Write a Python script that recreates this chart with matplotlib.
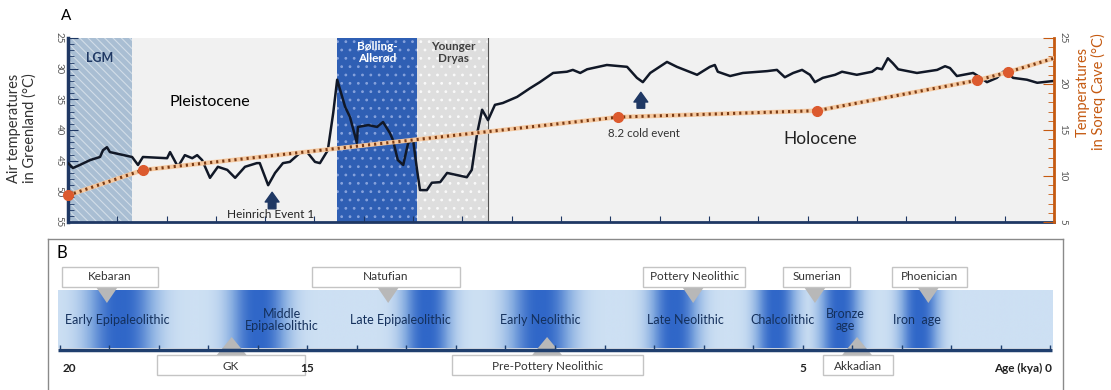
import matplotlib
matplotlib.use("Agg")
import matplotlib.pyplot as plt
import numpy as np
from matplotlib.colors import LinearSegmentedColormap
from matplotlib.patches import Polygon, Rectangle
from matplotlib.ticker import MultipleLocator

plt.rcParams["font.family"] = ["Lato", "DejaVu Sans"]
plt.rcParams["hatch.linewidth"] = 0.8

NAVY = "#1f3864"
ORANGE = "#c55a11"

# Greenland air temperature (shown as magnitude, axis inverted), age in kya
green_age = [20.00, 19.90, 19.76, 19.55, 19.35, 19.29, 19.21, 19.15, 18.70, 18.58,
             18.48, 17.99, 17.93, 17.77, 17.63, 17.48, 17.38, 17.28, 17.12, 16.96,
             16.77, 16.61, 16.41, 16.17, 16.11, 15.94, 15.80, 15.64, 15.50, 15.29,
             15.15, 14.99, 14.89, 14.73, 14.62, 14.54, 14.38, 14.28, 14.14, 14.12,
             13.91, 13.73, 13.61, 13.47, 13.41, 13.31, 13.20, 13.10, 13.00, 12.92,
             12.86, 12.72, 12.62, 12.45, 12.31, 11.91, 11.81, 11.70, 11.60, 11.48,
             11.34, 11.18, 10.89, 10.63, 10.43, 10.16, 9.88, 9.76, 9.61, 9.47,
             9.07, 8.66, 8.46, 8.34, 8.19, 7.85, 7.65, 7.24, 6.98, 6.88,
             6.82, 6.57, 6.31, 5.82, 5.62, 5.46, 5.29, 5.11, 4.95, 4.85,
             4.69, 4.44, 4.30, 4.00, 3.69, 3.59, 3.49, 3.37, 3.27, 3.16,
             2.78, 2.37, 2.21, 2.11, 1.97, 1.64, 1.50, 1.36, 1.16, 1.03,
             0.93, 0.83, 0.55, 0.34, 0.00]
green_temp = [45.4, 46.2, 45.7, 44.9, 44.4, 43.3, 42.8, 43.6, 44.4, 45.7,
              44.4, 44.6, 43.6, 46.0, 44.1, 44.6, 44.1, 44.9, 47.8, 46.0,
              46.5, 47.8, 46.0, 45.4, 45.4, 49.0, 47.0, 45.4, 45.2, 43.7,
              43.6, 45.2, 45.4, 43.3, 37.2, 31.8, 36.2, 37.9, 42.1, 39.5,
              39.2, 39.5, 38.7, 40.5, 41.6, 44.9, 45.7, 42.1, 41.6, 46.5,
              49.8, 49.8, 48.6, 48.5, 47.0, 47.7, 46.5, 40.5, 36.7, 38.4,
              35.9, 35.6, 34.6, 33.2, 32.2, 30.7, 30.5, 30.2, 30.7, 30.1,
              29.4, 29.7, 31.5, 32.2, 30.7, 28.9, 29.7, 31.0, 29.7, 29.4,
              30.5, 31.2, 30.7, 30.4, 30.2, 31.4, 30.7, 30.2, 31.0, 32.2,
              31.5, 31.0, 30.5, 31.0, 30.5, 29.9, 30.1, 28.3, 29.1, 30.1,
              30.7, 30.2, 29.6, 29.9, 31.2, 30.7, 31.4, 32.2, 31.5, 30.5,
              30.7, 31.5, 31.8, 32.3, 32.0]

# Soreq Cave temperatures
soreq_age = [20.0, 18.48, 8.84, 4.81, 1.56, 0.93, 0.0]
soreq_temp = [7.9, 10.65, 16.4, 17.1, 20.4, 21.3, 22.8]
soreq_measured = [0, 1, 2, 3, 4, 5]

# climate intervals (start, end age)
lgm = (20.0, 18.7)
bolling = (14.55, 12.92)
dryas = (12.92, 11.48)

# events with arrows: (age, tip, base)
events = [(15.86, 49.7, 53.3), (8.38, 33.4, 36.9)]

# panel B
band_blobs = [18.78, 16.0, 12.6, 10.3, 7.6, 5.55, 4.25, 2.65]
blob_width = [0.7, 0.6, 0.5, 0.65, 0.5, 0.42, 0.42, 0.4]
periods = ["Early Epipaleolithic", "Middle\nEpipaleolithic", "Late Epipaleolithic",
           "Early Neolithic", "Late Neolithic", "Chalcolithic", "Bronze\nage", "Iron  age"]
period_age = [18.83, 15.52, 13.13, 10.30, 7.37, 5.41, 4.14, 2.69]

upper_names = ["Kebaran", "Natufian", "Pottery Neolithic", "Sumerian", "Phoenician"]
upper_ptr = [19.05, 13.37, 7.21, 4.75, 2.46]
upper_left = [19.96, 14.91, 8.22, 5.39, 3.19]
upper_right = [18.02, 11.92, 6.16, 4.04, 1.68]

lower_names = ["GK", "Pre-Pottery Neolithic", "Akkadian"]
lower_ptr = [16.53, 10.16, 3.90]
lower_left = [18.04, 12.08, 4.59]
lower_right = [15.05, 8.22, 3.17]

age_labels = {20: "20", 15: "15", 5: "5", 0: "Age (kya) 0"}

fig = plt.figure(figsize=(11.11, 3.9), dpi=100)

# ---------------- panel A ----------------
ax = fig.add_axes([68 / 1111, 1 - 222 / 390, 986 / 1111, 184 / 390])
ax.set_facecolor("#f1f1f1")
ax.set_xlim(20, 0)
ax.set_ylim(55, 25)

ax.axvspan(*lgm, facecolor="#a9bed3", edgecolor="#d2dde8", hatch="\\\\\\\\", lw=0, zorder=1)
ax.axvspan(*bolling, facecolor="#2f5fb4", edgecolor="#86a2dc", hatch="..", lw=0, zorder=1)
ax.axvspan(*dryas, facecolor="#dedede", edgecolor="#fafafa", hatch="..", lw=0, zorder=1)
ax.axvline(dryas[1], color="#555555", lw=0.8, zorder=1)

ax.plot(green_age, green_temp, color="#111827", lw=1.8, zorder=4)

for age, tip, base in events:
    ax.annotate("", xy=(age, tip), xytext=(age, base),
                arrowprops=dict(arrowstyle="simple,head_width=1.0,head_length=0.7,tail_width=0.55",
                                color=NAVY), zorder=5)

ax.spines["top"].set_visible(False)
ax.spines["right"].set_visible(False)
ax.spines["left"].set_color(NAVY)
ax.spines["left"].set_linewidth(2.5)
ax.spines["bottom"].set_color(NAVY)
ax.spines["bottom"].set_linewidth(2)
ax.xaxis.set_major_locator(MultipleLocator(1))
ax.tick_params(axis="x", direction="in", length=4, color=NAVY, labelbottom=False)
ax.yaxis.set_major_locator(MultipleLocator(5))
ax.yaxis.set_minor_locator(MultipleLocator(1))
ax.tick_params(axis="y", which="major", direction="in", length=7, color=NAVY,
               labelsize=7, labelcolor="#555555", labelrotation=-90, pad=3)
ax.tick_params(axis="y", which="minor", direction="in", length=4, color=NAVY)
for lab in ax.get_yticklabels():
    lab.set_verticalalignment("center")

ax2 = ax.twinx()
ax2.set_ylim(5, 25)
ax2.plot(soreq_age, soreq_temp, color="#f6c9a0", lw=3.2, zorder=3, solid_capstyle="round")
ax2.plot(soreq_age, soreq_temp, color="#7a3a14", lw=2.2, ls=(0, (0.7, 1.3)), zorder=3)
ax2.plot([soreq_age[i] for i in soreq_measured], [soreq_temp[i] for i in soreq_measured],
         "o", color="#dc5a2e", ms=7, zorder=5, clip_on=False)
for s in ["top", "left", "bottom"]:
    ax2.spines[s].set_visible(False)
ax2.spines["right"].set_color(ORANGE)
ax2.spines["right"].set_linewidth(2)
ax2.yaxis.set_major_locator(MultipleLocator(5))
ax2.yaxis.set_minor_locator(MultipleLocator(1))
ax2.tick_params(axis="y", which="major", direction="in", length=8, color=ORANGE,
                labelsize=7, labelcolor="#555555", labelrotation=-90, pad=3)
ax2.tick_params(axis="y", which="minor", direction="in", length=4, color=ORANGE)
for lab in ax2.get_yticklabels():
    lab.set_verticalalignment("center")

ax.text(19.35, 28.3, "LGM", color=NAVY, fontsize=9, fontweight="bold", ha="center", va="center", zorder=6)
ax.text(17.12, 35.4, "Pleistocene", fontsize=11.5, ha="center", va="center", zorder=6)
ax.text(15.9, 53.7, "Heinrich Event 1", fontsize=8.5, color="#222222", ha="center", va="center", zorder=6)
ax.text(13.73, 27.3, "Bølling-\nAllerød", fontsize=8.5, color="white", fontweight="bold",
        ha="center", va="center", linespacing=1.1, zorder=6)
ax.text(12.19, 27.3, "Younger\nDryas", fontsize=8.5, color="#404040", fontweight="bold",
        ha="center", va="center", linespacing=1.1, zorder=6)
ax.text(8.32, 40.5, "8.2 cold event", fontsize=8.3, color="#333333", ha="center", va="center", zorder=6)
ax.text(4.75, 41.4, "Holocene", fontsize=12.5, color="#222222", ha="center", va="center", zorder=6)

fig.text(66 / 1111, 1 - 16 / 390, "A", fontsize=11, ha="center", va="center")
fig.text(22 / 1111, 1 - 128 / 390, "Air temperatures\nin Greenland (°C)", fontsize=10.5,
         rotation=90, ha="center", va="center", color="#333333", linespacing=1.15)
fig.text(1091 / 1111, 1 - 92 / 390, "Temperatures\nin Soreq Cave (°C)", fontsize=10.5,
         rotation=90, ha="center", va="center", color=ORANGE, linespacing=1.15)

# ---------------- panel B ----------------
bx = fig.add_axes([48 / 1111, 0, 1015 / 1111, 151 / 390])
bx.set_xlim(20.24, -0.26)
bx.set_ylim(390, 239)
bx.set_xticks([])
bx.set_yticks([])
for s in bx.spines.values():
    s.set_color("#8a8a8a")
    s.set_linewidth(1)
bx.spines["bottom"].set_visible(False)

ages = np.linspace(20.04, -0.04, 1200)
intensity = np.zeros_like(ages)
for c, w in zip(band_blobs, blob_width):
    intensity = np.maximum(intensity, np.exp(-np.abs((ages - c) / w) ** 2.5))
band_cmap = LinearSegmentedColormap.from_list("band", ["#cde0f3", "#84abe0", "#3067c8"])
bx.imshow(intensity[None, :], extent=[20.04, -0.04, 348, 290], aspect="auto",
          cmap=band_cmap, vmin=0, vmax=1, interpolation="bilinear", zorder=1)

for name, a in zip(periods, period_age):
    bx.text(a, 320, name, fontsize=9, color="#14305c", ha="center", va="center",
            linespacing=1.05, zorder=4)

bx.plot([20.04, -0.04], [350, 350], color="#1f3f6e", lw=2.5, zorder=3, solid_capstyle="butt")
bx.vlines(range(0, 21), 345, 350, color="#1f3f6e", lw=1, zorder=3)
for a, s in age_labels.items():
    ha = "right" if a == 0 else "center"
    xpos = -0.04 if a == 0 else (19.8 if a == 20 else a)
    bx.text(xpos, 368, s, fontsize=8.5, fontweight="bold", color="#222222", ha=ha, va="center", zorder=6)

for name, p, l, r in zip(upper_names, upper_ptr, upper_left, upper_right):
    bx.add_patch(Polygon([(p - 0.22, 287), (p + 0.22, 287), (p, 303)], closed=True,
                         facecolor="#b8b8b8", edgecolor="none", zorder=2))
    bx.add_patch(Rectangle((l, 267), r - l, 20, facecolor="white", edgecolor="#c4c4c4",
                           lw=1, zorder=3))
    bx.text((l + r) / 2, 277, name, fontsize=8.5, color="#333333", ha="center", va="center", zorder=4)

for name, p, l, r in zip(lower_names, lower_ptr, lower_left, lower_right):
    bx.add_patch(Polygon([(p - 0.3, 355), (p + 0.3, 355), (p, 337)], closed=True,
                         facecolor="#b8b8b8", edgecolor="none", zorder=2))
    bx.add_patch(Rectangle((l, 355), r - l, 20, facecolor="white", edgecolor="#c4c4c4",
                           lw=1, zorder=3))
    bx.text((l + r) / 2, 366, name, fontsize=8.5, color="#333333", ha="center", va="center", zorder=4)

fig.text(62 / 1111, 1 - 253 / 390, "B", fontsize=12, ha="center", va="center")

fig.savefig("out.png", dpi=100)
